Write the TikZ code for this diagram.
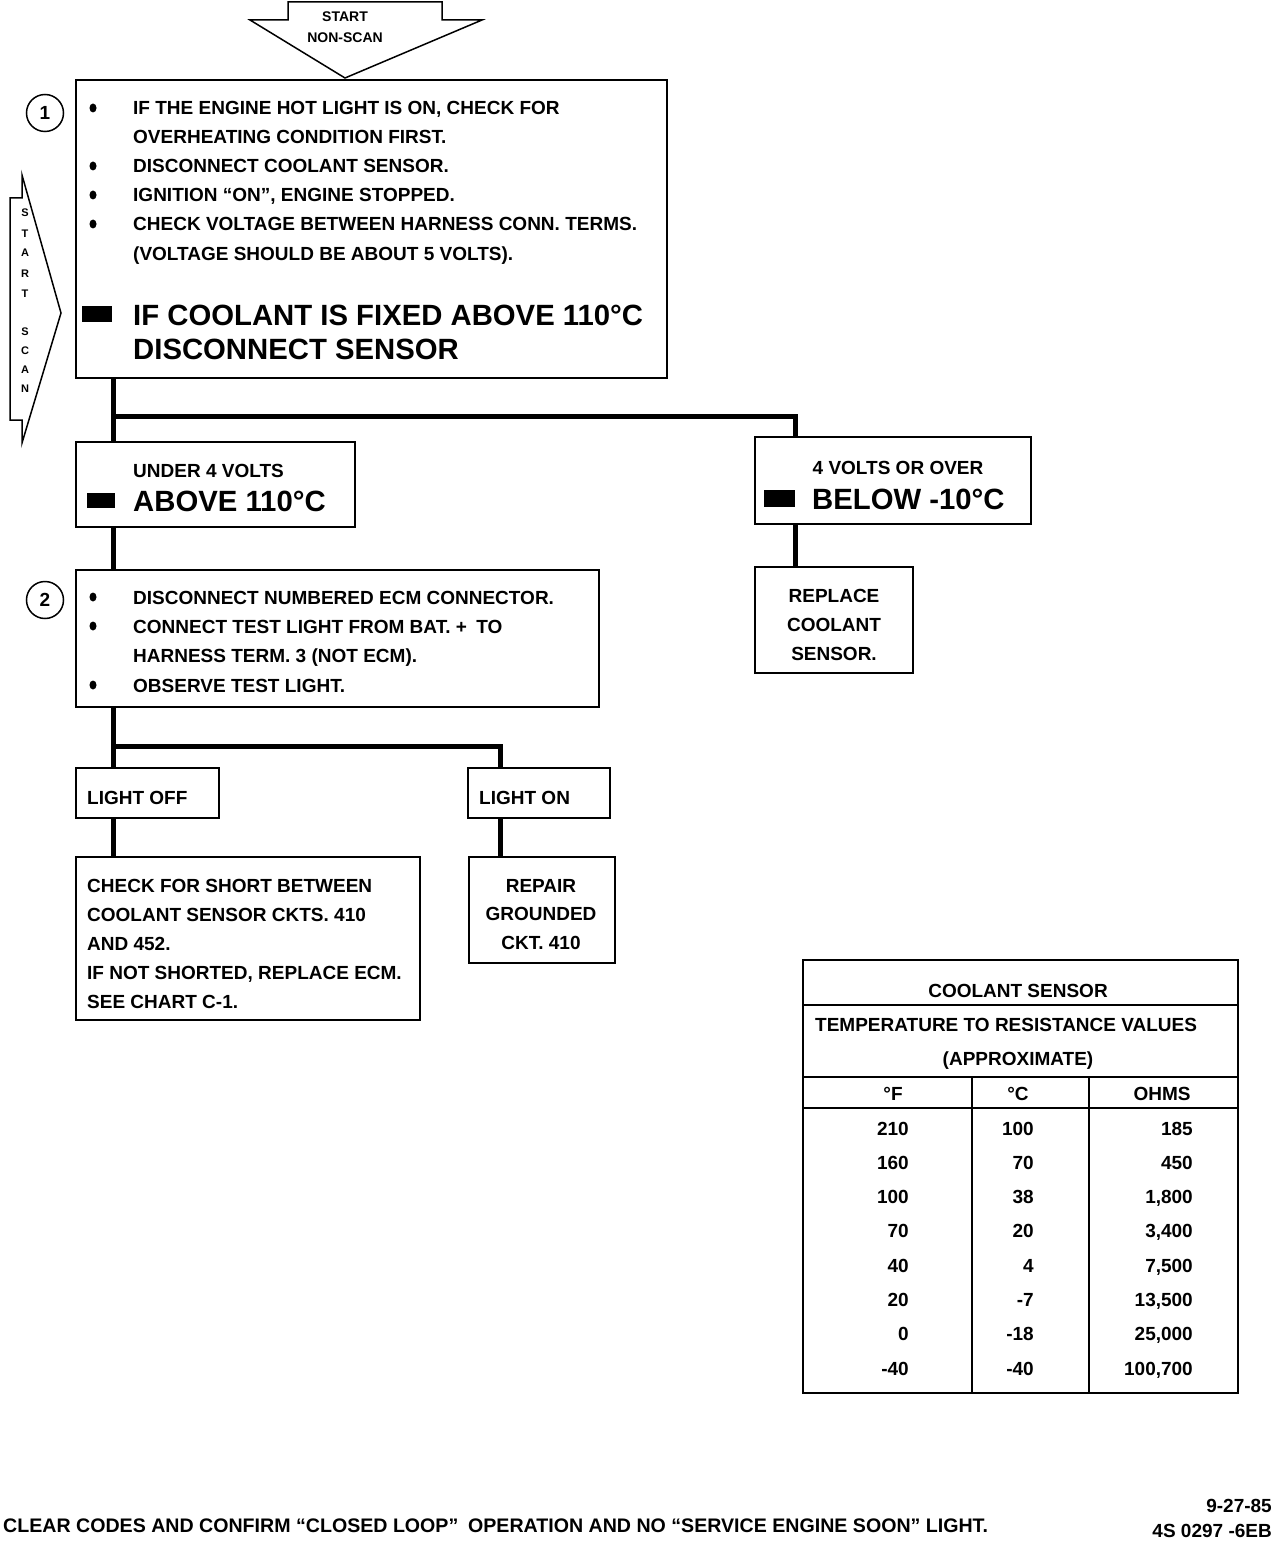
\documentclass[tikz,border=0pt]{standalone}
\usepackage{fontspec}
\setmainfont{Liberation Sans}
\usetikzlibrary{positioning}

\begin{document}
\begin{tikzpicture}[
        x=1pt, y=-1pt,
        box/.style={
            draw,
            line width=2pt,
            inner sep=0pt,
            outer sep=0pt
        },
        link/.style={line width=5pt},
        txt/.style={anchor=base west, inner sep=0pt, font=\fontsize{19}{23}\selectfont\bfseries},
        ctxt/.style={txt, anchor=base},
        rtxt/.style={txt, anchor=base east},
        big/.style={anchor=base west, inner sep=0pt, font=\fontsize{29.3}{34}\selectfont\bfseries},
        num/.style={draw, circle, line width=1.5pt, minimum size=37pt, inner sep=0pt, font=\fontsize{19}{23}\selectfont\bfseries}
    ]
    \useasboundingbox (0,0) rectangle (1280,1546);

    % Entradas
    \draw[line width=1.5pt] (288,2) -- (442,2) -- (442,20) -- (482,20) -- (345,78) -- (250,20) -- (288,20) -- cycle;
    \node[ctxt, font=\fontsize{14}{16}\selectfont\bfseries] (nsa) at (345,22) {START};
    \node[ctxt, font=\fontsize{14}{16}\selectfont\bfseries] (nsb) at (345,43) {NON-SCAN};
    \draw[line width=1.5pt] (10,198) -- (22,198) -- (22,175) -- (61,313) -- (22,443) -- (22,420) -- (10,420) -- cycle;
    \foreach \ch [count=\i] in {S,T,A,R,T}
        \node[ctxt, font=\fontsize{11}{12}\selectfont\bfseries] (sc\i) at (25,217+20*\i-20) {\ch};
    \foreach \ch [count=\i] in {S,C,A,N}
        \node[ctxt, font=\fontsize{11}{12}\selectfont\bfseries] (sn\i) at (25,335+19*\i-19) {\ch};

    % Caixas
    \node[box, minimum width=591pt, minimum height=298pt] (step1) at (371.5,229) {};
    \node[box, minimum width=279pt, minimum height=85pt] (under) at (215.5,484.5) {};
    \node[box, minimum width=276pt, minimum height=87pt] (over) at (893,480.5) {};
    \node[box, minimum width=158pt, minimum height=106pt] (replace) at (834,620) {};
    \node[box, minimum width=523pt, minimum height=137pt] (step2) at (337.5,638.5) {};
    \node[box, minimum width=143pt, minimum height=50pt] (off) at (147.5,793) {};
    \node[box, minimum width=142pt, minimum height=50pt] (on) at (539,793) {};
    \node[box, minimum width=344pt, minimum height=163pt] (short) at (248,938.5) {};
    \node[box, minimum width=146pt, minimum height=106pt] (repair) at (542,910) {};

    % Ligacoes
    \coordinate (fork1) at (113,416);
    \coordinate (fork1r) at (795,416);
    \coordinate (fork2) at (113,746);
    \coordinate (fork2r) at (500,746);
    \draw[link] ([xshift=37pt]step1.south west) -- ([xshift=37pt]under.north west);
    \draw[link] (fork1) -- (fork1r) -- ([xshift=40pt]over.north west);
    \draw[link] ([xshift=40pt]over.south west) -- ([xshift=40pt]replace.north west);
    \draw[link] ([xshift=37pt]under.south west) -- ([xshift=37pt]step2.north west);
    \draw[link] ([xshift=37pt]step2.south west) -- ([xshift=37pt]off.north west);
    \draw[link] (fork2) -- (fork2r) -- ([xshift=32pt]on.north west);
    \draw[link] ([xshift=37pt]off.south west) -- ([xshift=37pt]short.north west);
    \draw[link] ([xshift=32pt]on.south west) -- ([xshift=32pt]on.south west |- repair.north);

    % Passo 1
    \node[num] (n1) at (45,113) {1};
    \foreach \y in {108,166,195,224}
        \fill (93,\y) ellipse (3.5pt and 4.5pt);
    \node[txt] (s1a) at (133,115) {IF THE ENGINE HOT LIGHT IS ON, CHECK FOR};
    \node[txt] (s1b) at (133,144) {OVERHEATING CONDITION FIRST.};
    \node[txt] (s1c) at (133,173) {DISCONNECT COOLANT SENSOR.};
    \node[txt] (s1d) at (133,202) {IGNITION ``ON'', ENGINE STOPPED.};
    \node[txt] (s1e) at (133,231) {CHECK VOLTAGE BETWEEN HARNESS CONN. TERMS.};
    \node[txt] (s1f) at (133,260) {(VOLTAGE SHOULD BE ABOUT 5 VOLTS).};
    \fill (82,306) rectangle (112,322);
    \node[big] (s1g) at (133,325) {IF COOLANT IS FIXED ABOVE 110°C};
    \node[big] (s1h) at (133,359) {DISCONNECT SENSOR};

    % Resultados
    \node[txt] (u1) at (133,477) {UNDER 4 VOLTS};
    \fill (87,493) rectangle (115,508);
    \node[big] (u2) at (133,511) {ABOVE 110°C};
    \node[ctxt] (o1) at (898,474) {4 VOLTS OR OVER};
    \fill (764,490) rectangle (795,507);
    \node[big] (o2) at (812,509) {BELOW -10°C};
    \node[ctxt] (r1) at (834,602) {REPLACE};
    \node[ctxt] (r2) at (834,631) {COOLANT};
    \node[ctxt] (r3) at (834,660) {SENSOR.};

    % Passo 2
    \node[num] (n2) at (45,600) {2};
    \foreach \y in {597,626,685}
        \fill (93,\y) ellipse (3.5pt and 4.5pt);
    \node[txt] (s2a) at (133,604) {DISCONNECT NUMBERED ECM CONNECTOR.};
    \node[txt] (s2b) at (133,633) {CONNECT TEST LIGHT FROM BAT. +\enspace TO};
    \node[txt] (s2c) at (133,662) {HARNESS TERM. 3 (NOT ECM).};
    \node[txt] (s2d) at (133,692) {OBSERVE TEST LIGHT.};

    \node[txt] (l1) at (87,804) {LIGHT OFF};
    \node[txt] (l2) at (479,804) {LIGHT ON};
    \node[txt] (c1) at (87,892) {CHECK FOR SHORT BETWEEN};
    \node[txt] (c2) at (87,921) {COOLANT SENSOR CKTS. 410};
    \node[txt] (c3) at (87,950) {AND 452.};
    \node[txt] (c4) at (87,979) {IF NOT SHORTED, REPLACE ECM.};
    \node[txt] (c5) at (87,1008) {SEE CHART C-1.};
    \node[ctxt] (g1) at (541,892) {REPAIR};
    \node[ctxt] (g2) at (541,920) {GROUNDED};
    \node[ctxt] (g3) at (541,949) {CKT. 410};

    % Tabela
    \draw[line width=2pt] (803,960) rectangle (1238,1393);
    \draw[line width=2pt] (803,1005) -- (1238,1005);
    \draw[line width=2pt] (803,1077) -- (1238,1077);
    \draw[line width=2pt] (803,1108) -- (1238,1108);
    \draw[line width=2pt] (972,1077) -- (972,1393);
    \draw[line width=2pt] (1089,1077) -- (1089,1393);
    \node[ctxt] (t1) at (1018,997) {COOLANT SENSOR};
    \node[txt] (t2) at (815,1031) {TEMPERATURE TO RESISTANCE VALUES};
    \node[ctxt] (t3) at (1018,1065) {(APPROXIMATE)};
    \node[ctxt] (hf) at (893,1100) {°F};
    \node[ctxt] (hc) at (1018,1100) {°C};
    \node[ctxt] (ho) at (1162,1100) {OHMS};
    \foreach \f/\c/\o [count=\i] in {210/100/185, 160/70/450, 100/38/{1,800}, 70/20/{3,400},
            40/4/{7,500}, 20/-7/{13,500}, 0/-18/{25,000}, -40/-40/{100,700}} {
        \node[rtxt] (f\i) at (909,1135+34.3*\i-34.3) {\f};
        \node[rtxt] (c\i) at (1034,1135+34.3*\i-34.3) {\c};
        \node[rtxt] (o\i) at (1193,1135+34.3*\i-34.3) {\o};
    }

    % Rodape
    \node[txt, font=\fontsize{19.6}{23}\selectfont\bfseries] (foot) at (3,1532) {CLEAR CODES AND CONFIRM ``CLOSED LOOP''\enspace OPERATION AND NO ``SERVICE ENGINE SOON'' LIGHT.};
    \node[rtxt] (date) at (1272,1512) {9-27-85};
    \node[rtxt] (code) at (1272,1537) {4S 0297 -6EB};

    \end{tikzpicture}
\end{document}
